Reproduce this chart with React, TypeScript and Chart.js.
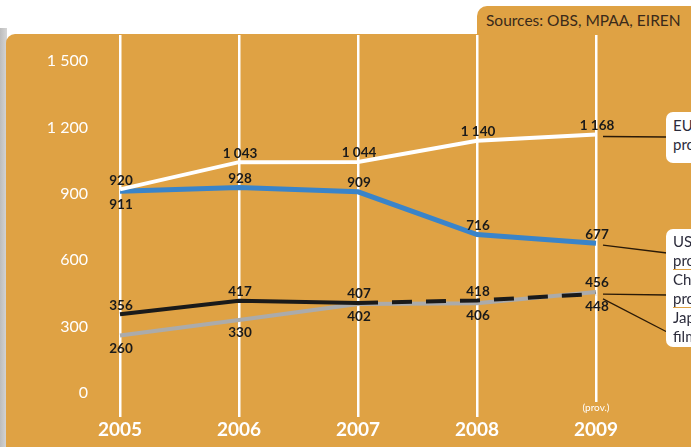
import React, { useEffect, useRef } from "react";
import { Chart, registerables } from "chart.js";

Chart.register(...registerables);

const years = ["2005", "2006", "2007", "2008", "2009"];
const euFilms = [920, 1043, 1044, 1140, 1168];
const usFilms = [911, 928, 909, 716, 677];
const japanFilms = [356, 417, 407, 418, 448];
const chinaFilms = [260, 330, 402, 406, 456];
const yTickLabels = ["0", "300", "600", "900", "1 200", "1 500"];
const euLabelSide = ["above", "above", "above", "above", "above"];
const usLabelSide = ["below", "above", "above", "above", "above"];
const japanLabelSide = ["above", "above", "above", "above", "below"];
const chinaLabelSide = ["below", "below", "below", "below", "above"];

const ORANGE = "#DFA244";
const FONT = "Lato, 'Open Sans', sans-serif";

const fmt = (v: number) =>
  v >= 1000 ? `${Math.floor(v / 1000)} ${String(v % 1000).padStart(3, "0")}` : String(v);

const sides = [euLabelSide, usLabelSide, japanLabelSide, chinaLabelSide];
const connectorTargets = [137, 253, 332, 295];

const overlayPlugin = {
  id: "overlay",
  beforeDatasetsDraw(chart: any) {
    const ctx = chart.ctx;
    const xs = chart.scales.x;
    ctx.save();
    ctx.strokeStyle = "#FFFFFF";
    ctx.lineWidth = 2.5;
    years.forEach((_, i) => {
      const x = Math.round(xs.getPixelForValue(i)) + 0.25;
      ctx.beginPath();
      ctx.moveTo(x, 35);
      ctx.lineTo(x, i === years.length - 1 ? 402 : 417);
      ctx.stroke();
    });
    const last = years.length - 1;
    ctx.fillStyle = "#FFFFFF";
    ctx.font = `10px ${FONT}`;
    ctx.textAlign = "center";
    ctx.textBaseline = "middle";
    ctx.fillText("(prov.)", xs.getPixelForValue(last), 408);
    ctx.restore();
  },
  afterDatasetsDraw(chart: any) {
    const ctx = chart.ctx;
    ctx.save();
    ctx.font = `bold 13.5px ${FONT}`;
    ctx.fillStyle = "#1a1a1a";
    ctx.textAlign = "center";
    ctx.textBaseline = "middle";
    chart.data.datasets.forEach((ds: any, di: number) => {
      const meta = chart.getDatasetMeta(di);
      meta.data.forEach((pt: any, i: number) => {
        const side = sides[di][i];
        const dy = side === "above" ? -9 : 13;
        ctx.fillText(fmt(ds.data[i]), pt.x + 1, pt.y + dy);
      });
      const lp = meta.data[meta.data.length - 1];
      ctx.strokeStyle = "#2a1a08";
      ctx.lineWidth = 1.3;
      ctx.beginPath();
      ctx.moveTo(lp.x + 7, lp.y + (di === 2 ? 5 : 2));
      ctx.lineTo(667, connectorTargets[di]);
      ctx.stroke();
    });
    ctx.restore();
  },
};

export default function App() {
  const ref = useRef<HTMLCanvasElement | null>(null);
  useEffect(() => {
    if (!ref.current) return;
    const chart = new Chart(ref.current, {
      type: "line",
      data: {
        labels: years,
        datasets: [
          { label: "EU", data: euFilms, borderColor: "#FFFFFF", borderWidth: 4, pointRadius: 0, tension: 0 },
          { label: "US", data: usFilms, borderColor: "#3A84C9", borderWidth: 5, pointRadius: 0, tension: 0 },
          {
            label: "Japan",
            data: japanFilms,
            borderColor: "#1a1a1a",
            borderWidth: 4,
            pointRadius: 0,
            tension: 0,
            segment: { borderDash: (c: any) => (c.p0DataIndex >= 2 ? [20, 14] : undefined) },
          },
          { label: "China", data: chinaFilms, borderColor: "#ABABAB", borderWidth: 4, pointRadius: 0, tension: 0 },
        ],
      },
      options: {
        animation: false,
        responsive: false,
        maintainAspectRatio: false,
        layout: { padding: { left: 0, right: 95, top: 61, bottom: 0 } },
        plugins: { legend: { display: false }, tooltip: { enabled: false } },
        scales: {
          x: {
            offset: false,
            grid: { display: false, drawTicks: false },
            border: { display: false },
            ticks: { color: "#FFFFFF", font: { family: FONT, size: 19, weight: "bold" }, padding: 25, maxRotation: 0 },
            afterFit: (s: any) => { s.height = 54; },
          },
          y: {
            min: 0,
            max: 1500,
            grid: { display: false, drawTicks: false },
            border: { display: false },
            ticks: {
              stepSize: 300,
              color: "#FFFFFF",
              font: { family: FONT, size: 16 },
              padding: 32,
              callback: (_v: any, i: number) => yTickLabels[i],
            },
            afterFit: (s: any) => { s.width = 120; },
          },
        },
      },
      plugins: [overlayPlugin],
    } as any);
    return () => chart.destroy();
  }, []);

  const legendText: React.CSSProperties = {
    fontFamily: FONT,
    fontSize: 15,
    color: "#2b2b3b",
    lineHeight: "18.5px",
    whiteSpace: "nowrap",
  };

  return (
    <div style={{ position: "fixed", left: 0, top: 0, width: 691, height: 447, overflow: "hidden", background: "#FFFFFF" }}>
      <div style={{ position: "absolute", left: 0, top: 28, width: 7, height: 419, background: "linear-gradient(to right, #bdbdbd, #d6d6d6)" }} />
      <div style={{ position: "absolute", left: 6, top: 34, width: 685, height: 413, background: ORANGE, borderTopLeftRadius: 9 }} />
      <div style={{ position: "absolute", left: 477, top: 6, width: 214, height: 29, background: ORANGE, borderTopLeftRadius: 10, fontFamily: FONT, fontSize: 15.5, color: "#3a2a1a", lineHeight: "28px", paddingLeft: 9, boxSizing: "border-box", whiteSpace: "nowrap", overflow: "hidden" }}>
        Sources: OBS, MPAA, EIREN
      </div>
      <canvas ref={ref} width={691} height={447} style={{ position: "absolute", left: 0, top: 0, width: 691, height: 447 }} />
      <div style={{ position: "absolute", left: 666, top: 112, width: 120, height: 51, background: "#FFFFFF", borderRadius: 7, padding: "4px 7px", boxSizing: "border-box" }}>
        <div style={legendText}>EU films</div>
        <div style={legendText}>produced</div>
      </div>
      <div style={{ position: "absolute", left: 666, top: 229, width: 120, height: 118, background: "#FFFFFF", borderRadius: 7, padding: "3px 7px", boxSizing: "border-box" }}>
        <div style={{ borderBottom: `1.5px solid ${ORANGE}` }}>
          <div style={legendText}>US films</div>
          <div style={legendText}>produced</div>
        </div>
        <div style={{ borderBottom: `1.5px solid ${ORANGE}` }}>
          <div style={legendText}>Chinese films</div>
          <div style={legendText}>produced</div>
        </div>
        <div>
          <div style={legendText}>Japanese</div>
          <div style={legendText}>films produced</div>
        </div>
      </div>
    </div>
  );
}
